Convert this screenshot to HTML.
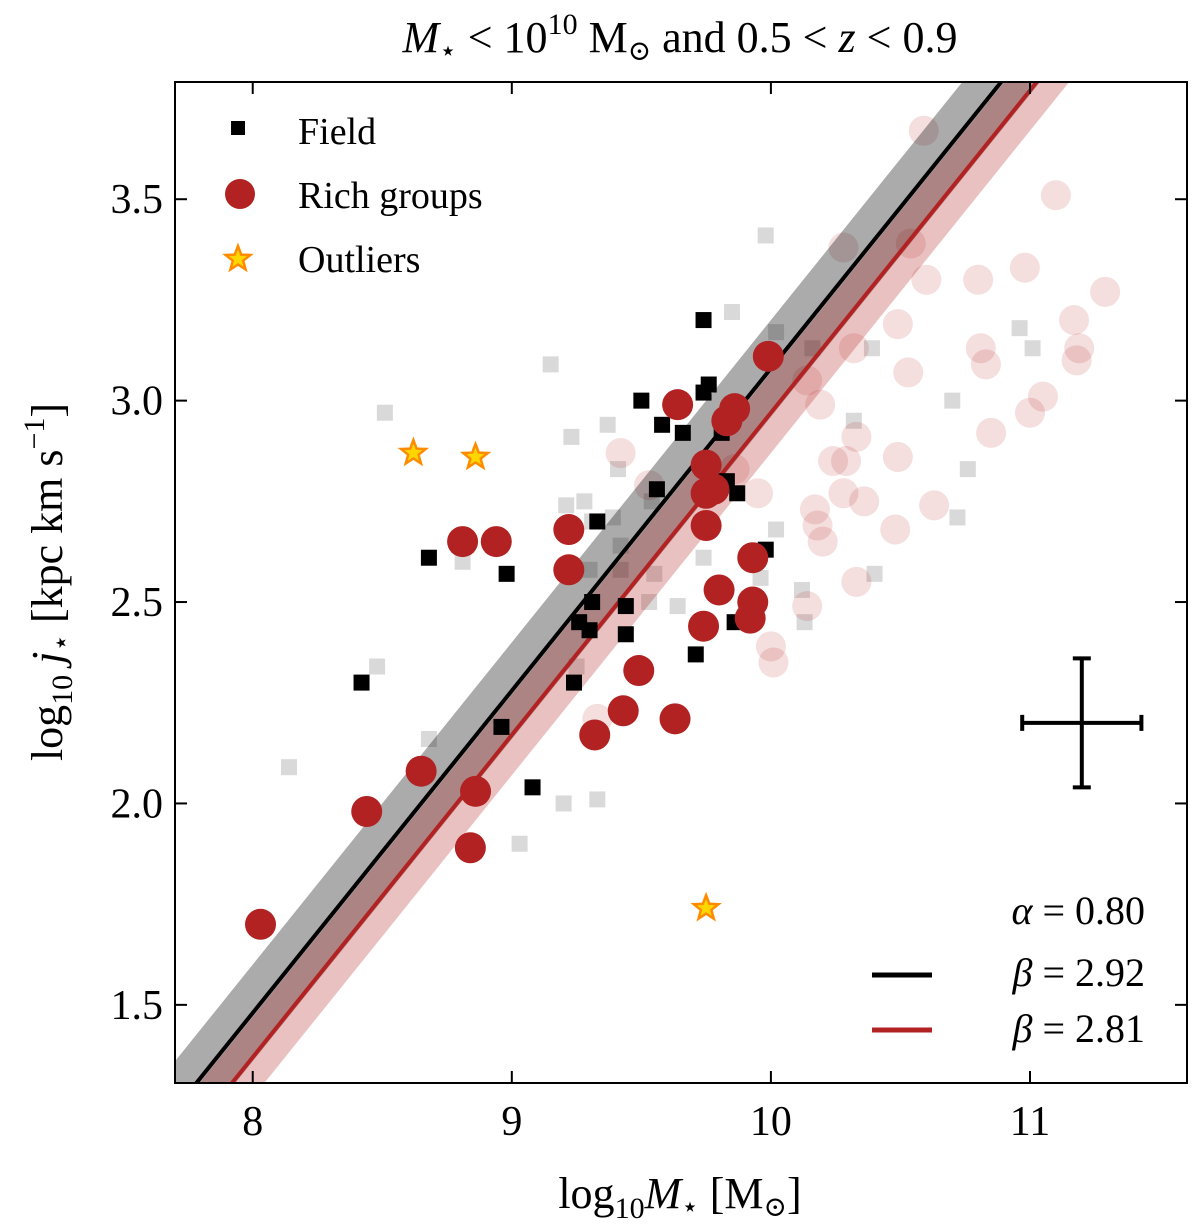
<!DOCTYPE html>
<html><head><meta charset="utf-8"><style>
body{margin:0;background:#fff}
svg, svg text{font-family:"Liberation Serif","DejaVu Serif",serif}
</style></head><body>
<svg id="chart" width="1200" height="1223" xmlns="http://www.w3.org/2000/svg" font-family="Liberation Serif, DejaVu Serif, serif">
<defs><clipPath id="clip"><rect x="175" y="82" width="1012" height="1001"/></clipPath></defs>
<g id="plot" clip-path="url(#clip)"></g>
<rect x="175" y="82" width="1012" height="1001" fill="none" stroke="#000" stroke-width="2"/>
<g id="axes"></g>
<text x="680" y="52" font-size="44" text-anchor="middle"><tspan font-style="italic">M</tspan><tspan font-size="28" dy="8">⋆</tspan><tspan dy="-8"> &lt; 10</tspan><tspan font-size="30" dy="-18">10</tspan><tspan dy="18"> M</tspan><tspan font-size="28" dy="8">⊙</tspan><tspan dy="-8"> and 0.5 &lt; </tspan><tspan font-style="italic">z</tspan><tspan> &lt; 0.9</tspan></text>
<text x="680" y="1208" font-size="44" text-anchor="middle">log<tspan font-size="30" dy="10">10</tspan><tspan dy="-10" font-style="italic">M</tspan><tspan font-size="28" dy="8">⋆</tspan><tspan dy="-8"> [M</tspan><tspan font-size="28" dy="8">⊙</tspan><tspan dy="-8">]</tspan></text>
<text transform="translate(62,582) rotate(-90)" font-size="44" text-anchor="middle">log<tspan font-size="30" dy="10">10</tspan><tspan dy="-10" font-style="italic"> j</tspan><tspan font-size="28" dy="8">⋆</tspan><tspan dy="-8"> [kpc km s</tspan><tspan font-size="30" dy="-18">−1</tspan><tspan dy="18">]</tspan></text>
<g>
<rect x="231" y="121" width="14" height="14" fill="#000"/>
<text x="298" y="144" font-size="38">Field</text>
<circle cx="240" cy="194" r="15" fill="#b22222"/>
<text x="298" y="208" font-size="38">Rich groups</text>
<polygon id="legstar" fill="#ffd700" stroke="#ff8c00" stroke-width="2.5"/>
<text x="298" y="272" font-size="38">Outliers</text>
</g>
<g>
<text x="1145" y="924" font-size="40" text-anchor="end"><tspan font-style="italic">α</tspan> = 0.80</text>
<line x1="872" y1="975" x2="932" y2="975" stroke="#000" stroke-width="5"/>
<text x="1145" y="986" font-size="40" text-anchor="end"><tspan font-style="italic">β</tspan> = 2.92</text>
<line x1="872" y1="1030" x2="932" y2="1030" stroke="#b22222" stroke-width="5"/>
<text x="1145" y="1042" font-size="40" text-anchor="end"><tspan font-style="italic">β</tspan> = 2.81</text>
</g>
</svg>
<script>
const NS="http://www.w3.org/2000/svg";
const xTicks=[8,9,10,11];
const yTicks=[1.5,2.0,2.5,3.0,3.5];
const alpha=0.80, betaField=2.92, betaRich=2.81, pivot=9.8, bandField=0.12, bandRich=0.10;
const fieldX=[8.42,8.68,8.98,8.96,9.08,9.24,9.26,9.30,9.31,9.33,9.44,9.44,9.50,9.56,9.58,9.66,9.71,9.74,9.74,9.76,9.77,9.81,9.83,9.87,9.86,9.98];
const fieldY=[2.30,2.61,2.57,2.19,2.04,2.30,2.45,2.43,2.50,2.70,2.49,2.42,3.00,2.78,2.94,2.92,2.37,3.20,3.02,3.04,2.82,2.92,2.80,2.77,2.45,2.63];
const richX=[8.03,8.44,8.65,8.81,8.86,8.84,8.94,9.22,9.22,9.32,9.43,9.49,9.63,9.64,9.75,9.75,9.75,9.74,9.80,9.83,9.86,9.93,9.93,9.92,9.99,9.78];
const richY=[1.70,1.98,2.08,2.65,2.03,1.89,2.65,2.68,2.58,2.17,2.23,2.33,2.21,2.99,2.84,2.77,2.69,2.44,2.53,2.95,2.98,2.61,2.50,2.46,3.11,2.78];
const outX=[8.62,8.86,9.75];
const outY=[2.87,2.86,1.74];
const bgFieldX=[9.98,8.51,9.15,8.48,8.14,8.68,8.81,9.23,9.21,9.28,9.37,9.41,9.39,9.42,9.42,9.54,9.55,9.53,9.64,9.74,9.74,9.85,9.96,10.02,10.02,10.12,10.13,10.16,10.32,10.40,10.39,10.70,10.76,10.72,10.96,11.01,9.20,9.33,9.03,9.25,9.30,9.31];
const bgFieldY=[3.41,2.97,3.09,2.34,2.09,2.16,2.60,2.91,2.74,2.75,2.94,2.83,2.71,2.64,2.58,2.75,2.57,2.50,2.49,2.61,2.68,3.22,2.56,2.68,3.17,2.53,2.45,3.13,2.95,2.57,3.13,3.00,2.83,2.71,3.18,3.13,2.00,2.01,1.90,2.34,2.58,2.70];
const bgRichX=[10.59,11.10,10.28,10.54,10.98,11.29,10.49,10.60,10.80,11.17,10.81,11.19,11.18,10.83,10.14,10.32,10.53,10.19,11.05,11.00,10.85,10.33,9.42,10.24,10.29,10.49,10.28,10.36,10.63,10.17,10.18,10.20,10.48,9.95,10.33,10.14,10.00,10.01,9.33,9.86,9.53];
const bgRichY=[3.67,3.51,3.38,3.39,3.33,3.27,3.19,3.30,3.30,3.20,3.13,3.13,3.10,3.09,3.05,3.13,3.07,2.99,3.01,2.97,2.92,2.91,2.87,2.85,2.85,2.86,2.77,2.75,2.74,2.73,2.69,2.65,2.68,2.77,2.55,2.49,2.39,2.35,2.21,2.83,2.79];
const errX=11.20, errY=2.20, errDx=0.23, errDy=0.16;
const X0=7.7,X1=11.606,Y0=1.306,Y1=3.791,L=175,R=1187,T=82,B=1083;
const sx=v=>L+(v-X0)/(X1-X0)*(R-L);
const sy=v=>B-(v-Y0)/(Y1-Y0)*(B-T);
const plot=document.getElementById('plot'), axes=document.getElementById('axes');
function mk(tag,attrs,parent){const e=document.createElementNS(NS,tag);for(const k in attrs)e.setAttribute(k,attrs[k]);parent.appendChild(e);return e;}
function starPts(cx,cy,ro){const ri=ro*0.42;let p=[];for(let k=0;k<10;k++){const a=-Math.PI/2+k*Math.PI/5;const r=k%2?ri:ro;p.push((cx+r*Math.cos(a)).toFixed(1)+','+(cy+r*Math.sin(a)).toFixed(1));}return p.join(' ');}
document.getElementById('legstar').setAttribute('points',starPts(238,259,13));
const line=(b,x)=>alpha*(x-pivot)+b;
function band(b,w,fill,name){
  const xa=7.5,xb=12;
  const p=mk('polygon',{points:`${sx(xa)},${sy(line(b,xa)+w)} ${sx(xb)},${sy(line(b,xb)+w)} ${sx(xb)},${sy(line(b,xb)-w)} ${sx(xa)},${sy(line(b,xa)-w)}`,fill:fill},plot);
  
  
}
function fitLine(b,color,name){
  const l=mk('line',{x1:sx(7.5),y1:sy(line(b,7.5)),x2:sx(12),y2:sy(line(b,12)),stroke:color,'stroke-width':4},plot);
  
  
}
bgFieldX.forEach((x,i)=>{const r=mk('rect',{x:sx(x)-8,y:sy(bgFieldY[i])-8,width:16,height:16,fill:'#000','fill-opacity':0.15},plot);
  
  });
bgRichX.forEach((x,i)=>{const c=mk('circle',{cx:sx(x),cy:sy(bgRichY[i]),r:15,fill:'#b22222','fill-opacity':0.15},plot);
  
  });
band(betaField,bandField,'rgba(0,0,0,0.33)','field-band');
band(betaRich,bandRich,'rgba(178,34,34,0.28)','rich-band');
fitLine(betaField,'#000','field-fit-line');
fitLine(betaRich,'#b22222','rich-fit-line');
fieldX.forEach((x,i)=>{const r=mk('rect',{x:sx(x)-8,y:sy(fieldY[i])-8,width:16,height:16,fill:'#000'},plot);
  
  });
richX.forEach((x,i)=>{const c=mk('circle',{cx:sx(x),cy:sy(richY[i]),r:15.5,fill:'#b22222'},plot);
  
  });
outX.forEach((x,i)=>{const s=mk('polygon',{points:starPts(sx(x),sy(outY[i]),13),fill:'#ffd700',stroke:'#ff8c00','stroke-width':2.5},plot);
  
  });
const eg=mk('g',{stroke:'#000','stroke-width':4},plot);


const ex=sx(errX),ey=sy(errY);
mk('line',{x1:sx(errX-errDx),y1:ey,x2:sx(errX+errDx),y2:ey},eg);
mk('line',{x1:ex,y1:sy(errY-errDy),x2:ex,y2:sy(errY+errDy)},eg);
mk('line',{x1:sx(errX-errDx),y1:ey-8,x2:sx(errX-errDx),y2:ey+8},eg);
mk('line',{x1:sx(errX+errDx),y1:ey-8,x2:sx(errX+errDx),y2:ey+8},eg);
mk('line',{x1:ex-9,y1:sy(errY-errDy),x2:ex+9,y2:sy(errY-errDy)},eg);
mk('line',{x1:ex-9,y1:sy(errY+errDy),x2:ex+9,y2:sy(errY+errDy)},eg);
xTicks.forEach(v=>{const x=sx(v);
  mk('line',{x1:x,y1:B,x2:x,y2:B-12,stroke:'#000','stroke-width':2},axes);
  mk('line',{x1:x,y1:T,x2:x,y2:T+12,stroke:'#000','stroke-width':2},axes);
  const t=mk('text',{x:x,y:B+52,'font-size':42,'text-anchor':'middle'},axes);t.textContent=v;
  
  });
yTicks.forEach(v=>{const y=sy(v);
  mk('line',{x1:L,y1:y,x2:L+12,y2:y,stroke:'#000','stroke-width':2},axes);
  mk('line',{x1:R,y1:y,x2:R-12,y2:y,stroke:'#000','stroke-width':2},axes);
  const t=mk('text',{x:L-12,y:y+14,'font-size':42,'text-anchor':'end'},axes);t.textContent=v.toFixed(1);
  
  });
</script>
</body></html>
